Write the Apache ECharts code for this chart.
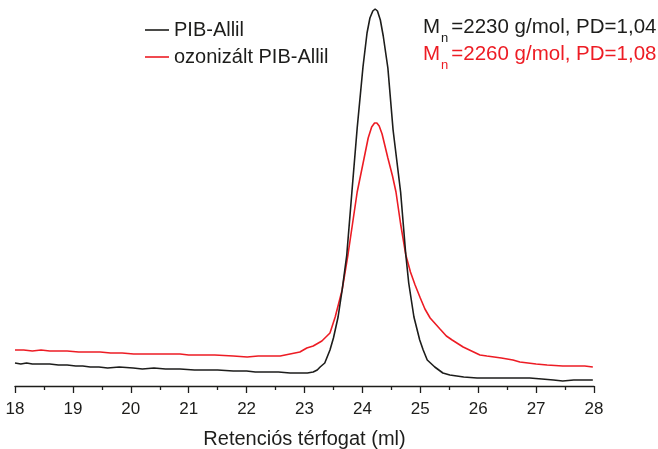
<!DOCTYPE html>
<html>
<head>
<meta charset="utf-8">
<script src="https://cdn.jsdelivr.net/npm/echarts@6/dist/echarts.min.js"></script>
<style>html,body{margin:0;padding:0;background:#fff}#c{width:658px;height:449px}</style>
</head>
<body>
<div id="c"></div>
<script>
// Retention volume (ml) and detector response (arbitrary units)
var blackX = [18.00,18.10,18.20,18.30,18.45,18.60,18.75,18.90,19.05,19.17,19.30,19.45,19.60,19.80,20.04,20.20,20.40,20.60,20.85,21.10,21.30,21.50,21.77,22.00,22.15,22.35,22.55,22.75,22.92,23.05,23.15,23.22,23.27,23.35,23.44,23.50,23.58,23.65,23.73,23.82,23.91,24.01,24.08,24.13,24.18,24.22,24.26,24.31,24.36,24.44,24.53,24.66,24.75,24.80,24.89,24.99,25.05,25.12,25.25,25.39,25.51,25.75,25.98,26.20,26.45,26.70,26.89,27.10,27.30,27.46,27.65,27.85,27.98];
var blackY = [23,22,23,22,22,22,21,21,20,20,19,19,18,19,18,17,18,17,17,16,16,16,15,15,14,14,14,13,13,13,14,16,19,23,36,48,69,96,131,195,258,319,353,368,375,377,375,366,350,318,256,194,131,103,69,46,36,26,19,13,11,9,8,8,8,8,8,7,6,5,6,6,6];
var redX = [18.00,18.15,18.30,18.45,18.60,18.75,18.90,19.10,19.30,19.47,19.65,19.85,20.05,20.33,20.55,20.85,21.00,21.20,21.45,21.77,22.01,22.20,22.35,22.58,22.75,22.92,23.04,23.15,23.30,23.44,23.53,23.65,23.75,23.91,24.03,24.10,24.16,24.21,24.25,24.29,24.34,24.44,24.52,24.58,24.66,24.75,24.83,24.91,25.00,25.08,25.17,25.34,25.45,25.55,25.74,26.03,26.15,26.40,26.60,26.72,27.00,27.19,27.46,27.65,27.84,27.98];
var redY = [36,36,35,36,35,35,35,34,34,34,33,33,32,32,32,32,31,31,31,30,29,30,30,30,32,34,38,40,45,53,69,96,131,194,228,248,259,263,263,260,252,228,210,194,162,131,114,101,88,77,68,57,50,46,39,31,30,28,26,24,22,21,20,20,20,19];
var seriesNames = ['PIB-Allil', 'ozonizált PIB-Allil'];
var xMin = 18, xMax = 28, xStep = 1;
var annotBlack = ['M', 'n', '=2230 g/mol, PD=1,04'];
var annotRed = ['M', 'n', '=2260 g/mol, PD=1,08'];

function pairs(xs, ys) { return xs.map(function (x, i) { return [x, ys[i]]; }); }

var FONT = 'Arial, "Liberation Sans", sans-serif';
var BLACK = '#1d1d1b';
var RED = '#ed1c24';

function richText(parts, color) {
  return {
    text: '{m|' + parts[0] + '}{n|' + parts[1] + '}{t|' + parts[2] + '}',
    rich: {
      m: { fontSize: 20.5, lineHeight: 22, verticalAlign: 'top', fill: color, fontFamily: FONT },
      n: { fontSize: 13, lineHeight: 13, verticalAlign: 'top', padding: [15, 3, 0, 1], fill: color, fontFamily: FONT },
      t: { fontSize: 20.5, lineHeight: 22, verticalAlign: 'top', fill: color, fontFamily: FONT }
    }
  };
}

var chart = echarts.init(document.getElementById('c'), null, { renderer: 'canvas' });
chart.setOption({
  animation: false,
  backgroundColor: '#fff',
  textStyle: { fontFamily: FONT },
  grid: { left: 15, right: 64, top: 0, bottom: 63, containLabel: false, outerBoundsMode: 'none' },
  legend: {
    orient: 'vertical',
    left: 140,
    top: 15,
    icon: 'rect',
    itemWidth: 24,
    itemHeight: 1.6,
    itemGap: 7,
    textStyle: { fontSize: 20, color: BLACK, fontFamily: FONT },
    data: seriesNames
  },
  xAxis: {
    type: 'value',
    min: xMin, max: xMax, interval: xStep,
    name: 'Retenciós térfogat (ml)',
    nameLocation: 'middle',
    nameGap: 43,
    nameTextStyle: { fontSize: 20, color: BLACK, fontFamily: FONT },
    axisLine: { lineStyle: { color: BLACK, width: 1.3 } },
    axisTick: { show: true, length: 7, lineStyle: { color: BLACK, width: 1.3 } },
    minorTick: { show: true, splitNumber: 2, length: 4, lineStyle: { color: BLACK, width: 1.3 } },
    splitLine: { show: false },
    axisLabel: { fontSize: 17, color: BLACK, margin: 15, fontFamily: FONT }
  },
  yAxis: { type: 'value', min: 0, max: 386, show: false },
  graphic: [
    { type: 'text', left: 423, top: 17, style: richText(annotBlack, BLACK) },
    { type: 'text', left: 423, top: 44, style: richText(annotRed, RED) }
  ],
  series: [
    { name: seriesNames[0], type: 'line', symbol: 'none', data: pairs(blackX, blackY),
      lineStyle: { color: BLACK, width: 1.6 }, itemStyle: { color: BLACK }, z: 3 },
    { name: seriesNames[1], type: 'line', symbol: 'none', data: pairs(redX, redY),
      lineStyle: { color: RED, width: 1.6 }, itemStyle: { color: RED }, z: 2 }
  ]
});
</script>
</body>
</html>
